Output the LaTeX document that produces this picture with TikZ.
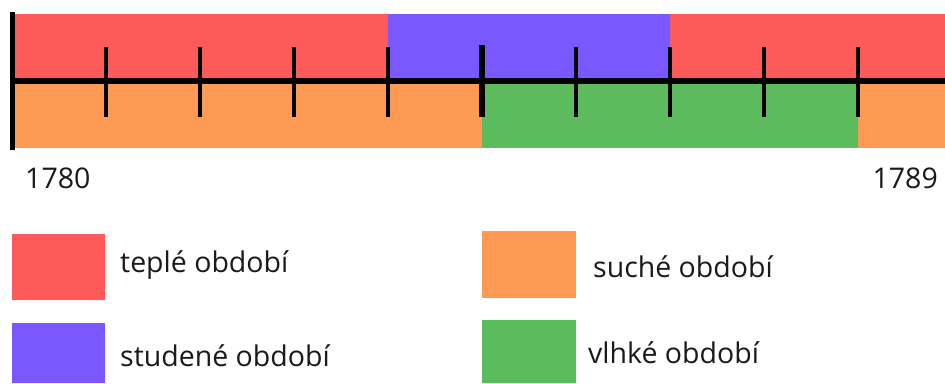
\documentclass[tikz,border=0pt]{standalone}
\usepackage{fontspec}
\setmainfont{Open Sans}
\definecolor{warm}{HTML}{FF5A5A}
\definecolor{cold}{HTML}{7B57FF}
\definecolor{dry}{HTML}{FF9A55}
\definecolor{wet}{HTML}{5CBB5C}
\definecolor{ink}{HTML}{1A1A1A}
\begin{document}
\begin{tikzpicture}[x=1pt,y=-1pt,
  tick/.style={line width=3.4pt,black},
  lbl/.style={font=\fontsize{28.5}{34}\selectfont,text=ink,inner sep=0pt,anchor=west}]
\useasboundingbox (0,0) rectangle (945,383);
\fill[white] (0,0) rectangle (945,383);
% top bar
\fill[warm] (12,14) rectangle (388,81);
\fill[cold] (388,14) rectangle (670,81);
\fill[warm] (670,14) rectangle (945,81);
% bottom bar
\fill[dry] (12,81) rectangle (482,148);
\fill[wet] (482,81) rectangle (858,148);
\fill[dry] (858,81) rectangle (945,148);
% axis
\draw[line width=6.5pt] (12,81) -- (945,81);
\draw[line width=5pt] (12,12) -- (12,150);
\foreach \x in {106,200,294,388,576,670,764,858}
  \draw[tick] (\x,47) -- (\x,117);
\draw[line width=5.5pt] (482,45) -- (482,117);
% years
\node[lbl] (y1780) at (25,178) {1780};
\node[lbl,anchor=east] (y1789) at (938,178) {1789};
% legend
\fill[warm] (12,234) rectangle (105,300);
\node[lbl] (tep) at (120,265) {teplé období};
\fill[cold] (12,323) rectangle (105,383);
\node[lbl] (stu) at (120,356) {studené období};
\fill[dry] (482,231) rectangle (576,298);
\node[lbl] (suc) at (593,267) {suché období};
\fill[wet] (482,320) rectangle (576,383);
\node[lbl] (vlh) at (588,353) {vlhké období};
\end{tikzpicture}
\end{document}
